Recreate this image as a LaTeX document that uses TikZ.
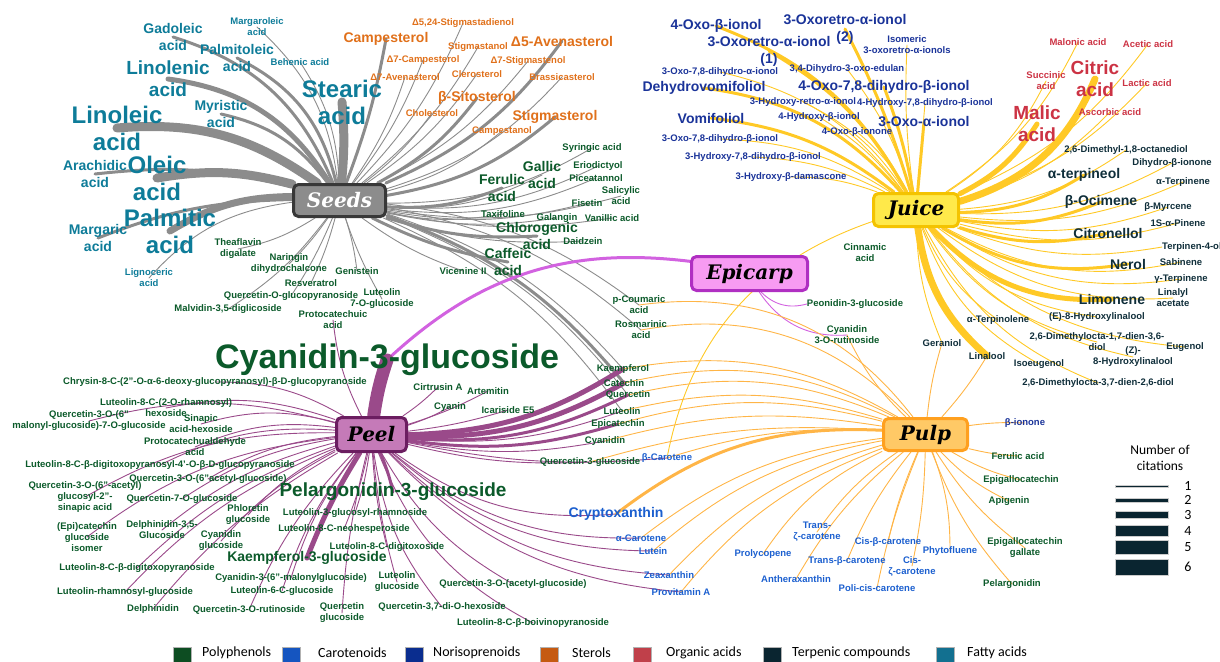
\documentclass[tikz,border=0pt]{standalone}
\usepackage{fontspec}
\setmainfont{Liberation Sans}
\newfontfamily\hubfont{DejaVu Serif}
\newfontfamily\legfont{Carlito}
\usetikzlibrary{backgrounds}

\definecolor{poly}{HTML}{0B5A2A}
\definecolor{caro}{HTML}{1B5FCF}
\definecolor{nori}{HTML}{1A3399}
\definecolor{ster}{HTML}{E0701A}
\definecolor{orga}{HTML}{CC3344}
\definecolor{terp}{HTML}{0F2E3A}
\definecolor{fatt}{HTML}{0E7C99}
\definecolor{polyL}{HTML}{0D4D22}
\definecolor{caroL}{HTML}{1555C0}
\definecolor{noriL}{HTML}{0A2D8F}
\definecolor{sterL}{HTML}{C55A11}
\definecolor{orgaL}{HTML}{C0404A}
\definecolor{terpL}{HTML}{0A2530}
\definecolor{fattL}{HTML}{127090}
\definecolor{seedE}{HTML}{8C8C8C}
\definecolor{juiceE}{HTML}{FFC926}
\definecolor{peelE}{HTML}{9A4A8A}
\definecolor{epiE}{HTML}{D262E0}
\definecolor{pulpE}{HTML}{FFB547}

\tikzset{
  lbl/.style={inner sep=0pt, align=center},
  szS/.style={lbl, font=\fontsize{9.5}{11}\selectfont\bfseries},
  szM/.style={lbl, font=\fontsize{14}{17}\selectfont\bfseries},
  szL/.style={lbl, font=\fontsize{19}{22}\selectfont\bfseries},
  szXL/.style={lbl, font=\fontsize{24}{27}\selectfont\bfseries},
  szXXL/.style={lbl, font=\fontsize{34}{38}\selectfont\bfseries},
  tPP/.style={text=poly}, tCA/.style={text=caro}, tNS/.style={text=nori},
  tST/.style={text=ster}, tOA/.style={text=orga}, tTP/.style={text=terp},
  tFA/.style={text=fatt},
  hub/.style={rounded corners=5pt, line width=3pt, inner sep=0pt,
    font=\hubfont\fontsize{20}{24}\selectfont\bfseries\itshape},
  eSeeds/.style={draw=seedE, line cap=round},
  eJuice/.style={draw=juiceE, line cap=round},
  ePeel/.style={draw=peelE, line cap=round},
  eEpi/.style={draw=epiE, line cap=round},
  ePulp/.style={draw=pulpE, line cap=round},
  c1/.style={line width=0.9pt}, c2/.style={line width=3pt},
  c3/.style={line width=5pt}, c4/.style={line width=7pt},
  c5/.style={line width=9pt}, c6/.style={line width=13pt},
  legsq/.style={minimum size=18pt, inner sep=0pt, draw=gray!60, line width=0.6pt},
  legtxt/.style={anchor=west, inner sep=0pt, font=\legfont\fontsize{14}{16}\selectfont},
  citbar/.style={minimum width=53pt, inner sep=0pt, fill=terpL, draw=gray!40, line width=0.5pt}
}

\begin{document}
\begin{tikzpicture}[x=1pt,y=-1pt]
  \useasboundingbox (0,0) rectangle (1220,661);

  % hubs
  \node[hub,fill=black!45,draw=black!78,text=white,minimum width=92pt,minimum height=32pt] (seeds) at (339.5,200.5) {Seeds};
  \node[hub,fill={rgb,255:red,255;green,233;blue,74},draw={rgb,255:red,244;green,195;blue,0},minimum width=85pt,minimum height=33pt] (juice) at (916,210) {Juice};
  \node[hub,fill={rgb,255:red,247;green,155;blue,242},draw={rgb,255:red,176;green,47;blue,194},minimum width=116pt,minimum height=34pt] (epicarp) at (749.5,273.5) {Epicarp};
  \node[hub,fill={rgb,255:red,197;green,122;blue,184},draw={rgb,255:red,107;green,29;blue,96},minimum width=70pt,minimum height=34pt] (peel) at (371.5,434.5) {Peel};
  \node[hub,fill={rgb,255:red,255;green,201;blue,102},draw={rgb,255:red,255;green,160;blue,31},minimum width=84pt,minimum height=32pt] (pulp) at (925.5,434.5) {Pulp};

  % fatty acids
  \node[szM,tFA] (gad) at (173,37) {Gadoleic\\acid};
  \node[szS,tFA] (mgo) at (257,27) {Margaroleic\\acid};
  \node[szM,tFA] (pmo) at (237,58) {Palmitoleic\\acid};
  \node[szS,tFA] (beh) at (300,62) {Behenic acid};
  \node[szL,tFA] (lnn) at (168,79) {Linolenic\\acid};
  \node[szM,tFA] (myr) at (221,114) {Myristic\\acid};
  \node[szXL,tFA] (lno) at (117,128) {Linoleic\\acid};
  \node[szXL,tFA] (ste) at (342,102) {Stearic\\acid};
  \node[szM,tFA] (ara) at (95,174) {Arachidic\\acid};
  \node[szXL,tFA] (ole) at (157,178) {Oleic\\acid};
  \node[szXL,tFA] (pal) at (170,231) {Palmitic\\acid};
  \node[szM,tFA] (mgc) at (98,238) {Margaric\\acid};
  \node[szS,tFA] (lig) at (149,278) {Lignoceric\\acid};

  % sterols
  \node[szS,tST] (s524) at (463,23) {Δ5,24-Stigmastadienol};
  \node[szM,tST] (cmp) at (386,39) {Campesterol};
  \node[szS,tST] (stn) at (478,47) {Stigmastanol};
  \node[szM,tST] (a5a) at (562,41) {Δ5-Avenasterol};
  \node[szS,tST] (c7) at (423,60) {Δ7-Campesterol};
  \node[szS,tST] (s7) at (528,61) {Δ7-Stigmastenol};
  \node[szS,tST] (a7) at (405,77) {Δ7-Avenasterol};
  \node[szS,tST] (clr) at (477,74) {Clerosterol};
  \node[szS,tST] (bra) at (562,77) {Brassicasterol};
  \node[szM,tST] (sit) at (477,98) {β-Sitosterol};
  \node[szS,tST] (cho) at (432,113) {Cholesterol};
  \node[szM,tST] (stg) at (555,117) {Stigmasterol};
  \node[szS,tST] (cpn) at (502,131) {Campestanol};

  % polyphenols
  \node[szS,tPP] (syr) at (592,148) {Syringic acid};
  \node[szM,tPP] (gal) at (542,175) {Gallic\\acid};
  \node[szS,tPP] (eri) at (598,166) {Eriodictyol};
  \node[szM,tPP] (fer) at (502,188) {Ferulic\\acid};
  \node[szS,tPP] (pic) at (596,178) {Piceatannol};
  \node[szS,tPP] (sal) at (621,196) {Salicylic\\acid};
  \node[szS,tPP] (fis) at (587,203) {Fisetin};
  \node[szS,tPP] (tax) at (503,214) {Taxifoline};
  \node[szS,tPP] (glg) at (557,218) {Galangin};
  \node[szS,tPP] (van) at (612,218) {Vanillic acid};
  \node[szM,tPP] (chl) at (537,236) {Chlorogenic\\acid};
  \node[szS,tPP] (dai) at (583,241) {Daidzein};
  \node[szM,tPP] (caf) at (508,262) {Caffeic\\acid};
  \node[szS,tPP] (vic) at (463,271) {Vicenine II};
  \node[szS,tPP] (gen) at (357,271) {Genistein};
  \node[szS,tPP] (the) at (238,249) {Theaflavin\\digalate};
  \node[szS,tPP] (nar) at (289,264) {Naringin\\dihydrochalcone};
  \node[szS,tPP] (res) at (311,283) {Resveratrol};
  \node[szS,tPP] (qog) at (291,296) {Quercetin-O-glucopyranoside};
  \node[szS,tPP] (l7g) at (382,299) {Luteolin\\7-O-glucoside};
  \node[szS,tPP] (mal) at (228,309) {Malvidin-3,5-diglicoside};
  \node[szS,tPP] (pca) at (333,320) {Protocatechuic\\acid};
  \node[szS,tPP] (pcm) at (639,305) {p-Coumaric\\acid};
  \node[szS,tPP] (ros) at (641,330) {Rosmarinic\\acid};
  \node[szS,tPP] (cin) at (865,253) {Cinnamic\\acid};
  \node[szS,tPP] (peo) at (855,304) {Peonidin-3-glucoside};
  \node[szS,tPP] (c3r) at (847,335) {Cyanidin\\3-O-rutinoside};
  \node[szS,tPP] (kae) at (623,369) {Kaempferol};
  \node[szS,tPP] (cat) at (624,383) {Catechin};
  \node[szS,tPP] (que) at (628,395) {Quercetin};
  \node[szS,tPP] (lut) at (622,411) {Luteolin};
  \node[szS,tPP] (epi) at (618,424) {Epicatechin};
  \node[szS,tPP] (cya) at (605,441) {Cyanidin};
  \node[szS,tPP] (q3g) at (590,462) {Quercetin-3-glucoside};
  \node[szS,tPP] (cir) at (438,387) {Cirtrusin A};
  \node[szS,tPP] (art) at (488,391) {Artemitin};
  \node[szS,tPP] (cyn) at (450,407) {Cyanin};
  \node[szS,tPP] (ica) at (508,410) {Icariside E5};
  \node[szXXL,tPP] (c3g) at (387,360) {Cyanidin-3-glucoside};
  \node[szS,tPP] (chr) at (215,382) {Chrysin-8-C-(2''-O-α-6-deoxy-glucopyranosyl)-β-D-glucopyranoside};
  \node[szS,tPP] (l8r) at (166,408) {Luteolin-8-C-(2-O-rhamnosyl)\\hexoside};
  \node[szS,tPP] (q3m) at (89,421) {Quercetin-3-O-(6''\\malonyl-glucoside)-7-O-glucoside};
  \node[szS,tPP] (sin) at (201,424) {Sinapic\\acid-hexoside};
  \node[szS,tPP] (pcd) at (195,447) {Protocatechualdehyde\\acid};
  \node[szS,tPP] (l8d) at (160,465) {Luteolin-8-C-β-digitoxopyranosyl-4'-O-β-D-glucopyranoside};
  \node[szS,tPP] (q6a) at (208,479) {Quercetin-3-O-(6''acetyl-glucoside)};
  \node[szS,tPP] (qas) at (85,497) {Quercetin-3-O-(6''-acetyl)\\glucosyl-2''-\\sinapic acid};
  \node[szS,tPP] (q7g) at (182,499) {Quercetin-7-O-glucoside};
  \node[szS,tPP] (phl) at (248,515) {Phloretin\\glucoside};
  \node[szS,tPP] (ecg) at (87,537) {(Epi)catechin\\glucoside\\isomer};
  \node[szS,tPP] (d35) at (162,530) {Delphinidin-3,5-\\Glucoside};
  \node[szS,tPP] (cyg) at (221,541) {Cyanidin\\glucoside};
  \node[szL,tPP] (pel) at (393,492) {Pelargonidin-3-glucoside};
  \node[szS,tPP] (lgr) at (355,513) {Luteolin-3-glucosyl-rhamnoside};
  \node[szS,tPP] (lnh) at (344,529) {Luteolin-8-C-neohesperoside};
  \node[szS,tPP] (ldg) at (387,547) {Luteolin-8-C-digitoxoside};
  \node[szM,tPP] (k3g) at (307,558) {Kaempferol-3-glucoside};
  \node[szS,tPP] (ldp) at (137,568) {Luteolin-8-C-β-digitoxopyranoside};
  \node[szS,tPP] (cmg) at (291,578) {Cyanidin-3-(6''-malonylglucoside)};
  \node[szS,tPP] (l6c) at (282,591) {Luteolin-6-C-glucoside};
  \node[szS,tPP] (lgl) at (397,582) {Luteolin\\glucoside};
  \node[szS,tPP] (lrg) at (125,592) {Luteolin-rhamnosyl-glucoside};
  \node[szS,tPP] (qag) at (513,584) {Quercetin-3-O-(acetyl-glucoside)};
  \node[szS,tPP] (del) at (153,609) {Delphinidin};
  \node[szS,tPP] (qru) at (249,610) {Quercetin-3-O-rutinoside};
  \node[szS,tPP] (qgl) at (342,613) {Quercetin\\glucoside};
  \node[szS,tPP] (q37) at (442,607) {Quercetin-3,7-di-O-hexoside};
  \node[szS,tPP] (lbv) at (533,623) {Luteolin-8-C-β-boivinopyranoside};
  \node[szS,tPP] (fea) at (1018,456) {Ferulic acid};
  \node[szS,tPP] (egc) at (1021,480) {Epigallocatechin};
  \node[szS,tPP] (api) at (1009,501) {Apigenin};
  \node[szS,tPP] (egg) at (1025,548) {Epigallocatechin\\gallate};
  \node[szS,tPP] (pgd) at (1012,584) {Pelargonidin};

  % carotenoids
  \node[szS,tCA] (bca) at (667,458) {β-Carotene};
  \node[szM,tCA] (cry) at (616,514) {Cryptoxanthin};
  \node[szS,tCA] (aca) at (641,538) {α-Carotene};
  \node[szS,tCA] (lue) at (653,551) {Lutein};
  \node[szS,tCA] (zea) at (669,575) {Zeaxanthin};
  \node[szS,tCA] (pva) at (681,592) {Provitamin A};
  \node[szS,tCA] (ply) at (763,554) {Prolycopene};
  \node[szS,tCA] (tzc) at (817,532) {Trans-\\ζ-carotene};
  \node[szS,tCA] (ant) at (796,579) {Antheraxanthin};
  \node[szS,tCA] (tbc) at (847,561) {Trans-β-carotene};
  \node[szS,tCA] (cbc) at (888,542) {Cis-β-carotene};
  \node[szS,tCA] (pcc) at (877,588) {Poli-cis-carotene};
  \node[szS,tCA] (czc) at (912,566) {Cis-\\ζ-carotene};
  \node[szS,tCA] (phy) at (950,551) {Phytofluene};

  % norisoprenoids
  \node[szS,tNS] (bio) at (1025,423) {β-ionone};
  \node[szM,tNS] (oxb) at (716,26) {4-Oxo-β-ionol};
  \node[szM,tNS] (or2) at (845,29) {3-Oxoretro-α-ionol\\(2)};
  \node[szS,tNS] (iso) at (907,45) {Isomeric\\3-oxoretro-α-ionols};
  \node[szM,tNS] (or1) at (769,51) {3-Oxoretro-α-ionol\\(1)};
  \node[szS,tNS] (o78a) at (720,72) {3-Oxo-7,8-dihydro-α-ionol};
  \node[szS,tNS] (ded) at (847,69) {3,4-Dihydro-3-oxo-edulan};
  \node[szM,tNS] (dhv) at (704,88) {Dehydrovomifoliol};
  \node[szM,tNS] (o78b) at (884,87) {4-Oxo-7,8-dihydro-β-ionol};
  \node[szS,tNS] (hra) at (803,102) {3-Hydroxy-retro-α-ionol};
  \node[szS,tNS] (h78) at (925,103) {4-Hydroxy-7,8-dihydro-β-ionol};
  \node[szM,tNS] (vom) at (711,118) {Vomifoliol};
  \node[szS,tNS] (hbi) at (819,117) {4-Hydroxy-β-ionol};
  \node[szM,tNS] (oai) at (924,122) {3-Oxo-α-ionol};
  \node[szS,tNS] (obn) at (857,132) {4-Oxo-β-ionone};
  \node[szS,tNS] (o78c) at (720,139) {3-Oxo-7,8-dihydro-β-ionol};
  \node[szS,tNS] (h78b) at (753,157) {3-Hydroxy-7,8-dihydro-β-ionol};
  \node[szS,tNS] (hbd) at (791,177) {3-Hydroxy-β-damascone};

  % organic acids
  \node[szS,tOA] (mlo) at (1078,42) {Malonic acid};
  \node[szS,tOA] (ace) at (1148,44) {Acetic acid};
  \node[szS,tOA] (suc) at (1046,81) {Succinic\\acid};
  \node[szL,tOA] (cit) at (1095,79) {Citric\\acid};
  \node[szS,tOA] (lac) at (1147,83) {Lactic acid};
  \node[szL,tOA] (mlc) at (1037,124) {Malic\\acid};
  \node[szS,tOA] (asc) at (1110,112) {Ascorbic acid};

  % terpenic compounds
  \node[szS,tTP] (dmo) at (1126,150) {2,6-Dimethyl-1,8-octanediol};
  \node[szS,tTP] (dhi) at (1172,163) {Dihydro-β-ionone};
  \node[szM,tTP] (ate) at (1084,175) {α-terpineol};
  \node[szS,tTP] (atr) at (1183,182) {α-Terpinene};
  \node[szM,tTP] (oci) at (1101,202) {β-Ocimene};
  \node[szS,tTP] (myc) at (1168,207) {β-Myrcene};
  \node[szS,tTP] (pin) at (1178,223) {1S-α-Pinene};
  \node[szM,tTP] (ctn) at (1108,233) {Citronellol};
  \node[szS,tTP,anchor=west] (t4o) at (1162,247) {Terpinen-4-ol};
  \node[szM,tTP] (ner) at (1128,264) {Nerol};
  \node[szS,tTP] (sab) at (1181,262) {Sabinene};
  \node[szS,tTP] (gte) at (1181,279) {γ-Terpinene};
  \node[szM,tTP] (lim) at (1112,299) {Limonene};
  \node[szS,tTP] (lya) at (1173,298) {Linalyl\\acetate};
  \node[szS,tTP] (e8h) at (1097,317) {(E)-8-Hydroxylinalool};
  \node[szS,tTP] (ato) at (998,320) {α-Terpinolene};
  \node[szS,tTP] (d17) at (1097,342) {2,6-Dimethylocta-1,7-dien-3,6-\\diol};
  \node[szS,tTP] (eug) at (1185,347) {Eugenol};
  \node[szS,tTP] (z8h) at (1133,357) {(Z)-\\8-Hydroxylinalool};
  \node[szS,tTP] (ger) at (942,343) {Geraniol};
  \node[szS,tTP] (lin) at (987,356) {Linalool};
  \node[szS,tTP] (ieu) at (1039,364) {Isoeugenol};
  \node[szS,tTP] (d37) at (1098,383) {2,6-Dimethylocta-3,7-dien-2,6-diol};

  % Draw edges
  \begin{scope}[on background layer]
    % seeds
    \draw[eSeeds,c2] (seeds) to[bend right=25] (gad.center);
    \draw[eSeeds,c1] (seeds) to[bend right=20] (mgo.center);
    \draw[eSeeds,c2] (seeds) to[bend right=25] (pmo.center);
    \draw[eSeeds,c1] (seeds) to[bend right=15] (beh.center);
    \draw[eSeeds,c3] (seeds) to[bend right=25] (lnn.center);
    \draw[eSeeds,c2] (seeds) to[bend right=20] (myr.center);
    \draw[eSeeds,c5] (seeds) to[bend right=20] (lno.center);
    \draw[eSeeds,c5] (seeds) to[bend right=5] (ste.center);
    \draw[eSeeds,c2] (seeds) to[bend right=10] (ara.center);
    \draw[eSeeds,c5] (seeds) to[bend right=12] (ole.center);
    \draw[eSeeds,c4] (seeds) to[bend right=15] (pal.center);
    \draw[eSeeds,c2] (seeds) to[bend right=10] (mgc.center);
    \draw[eSeeds,c1] (seeds) to[bend right=20] (lig.center);
    \draw[eSeeds,c1] (seeds) to[bend right=10] (s524.center);
    \draw[eSeeds,c2] (seeds) to[bend right=5] (cmp.center);
    \draw[eSeeds,c1] (seeds) to[bend right=10] (stn.center);
    \draw[eSeeds,c2] (seeds) to[bend right=15] (a5a.center);
    \draw[eSeeds,c1] (seeds) to[bend right=8] (c7.center);
    \draw[eSeeds,c1] (seeds) to[bend right=12] (s7.center);
    \draw[eSeeds,c1] (seeds) to[bend right=8] (a7.center);
    \draw[eSeeds,c1] (seeds) to[bend right=10] (clr.center);
    \draw[eSeeds,c1] (seeds) to[bend right=15] (bra.center);
    \draw[eSeeds,c2] (seeds) to[bend right=12] (sit.center);
    \draw[eSeeds,c1] (seeds) to[bend right=8] (cho.center);
    \draw[eSeeds,c2] (seeds) to[bend right=15] (stg.center);
    \draw[eSeeds,c1] (seeds) to[bend right=12] (cpn.center);
    \draw[eSeeds,c1] (seeds) to[bend right=15] (syr.center);
    \draw[eSeeds,c1] (seeds) to[bend right=15] (gal.center);
    \draw[eSeeds,c1] (seeds) to[bend right=15] (eri.center);
    \draw[eSeeds,c2] (seeds) to[bend right=12] (fer.center);
    \draw[eSeeds,c1] (seeds) to[bend right=15] (pic.center);
    \draw[eSeeds,c1] (seeds) to[bend right=12] (sal.center);
    \draw[eSeeds,c1] (seeds) to[bend right=12] (fis.center);
    \draw[eSeeds,c1] (seeds) to[bend right=10] (tax.center);
    \draw[eSeeds,c1] (seeds) to[bend right=10] (glg.center);
    \draw[eSeeds,c1] (seeds) to[bend right=10] (van.center);
    \draw[eSeeds,c2] (seeds) to[bend right=10] (chl.center);
    \draw[eSeeds,c1] (seeds) to[bend right=10] (dai.center);
    \draw[eSeeds,c2] (seeds) to[bend right=8] (caf.center);
    \draw[eSeeds,c1] (seeds) to[bend right=8] (vic.center);
    \draw[eSeeds,c1] (seeds) to[bend left=5] (gen.center);
    \draw[eSeeds,c1] (seeds) to[bend left=10] (the.center);
    \draw[eSeeds,c1] (seeds) to[bend left=5] (nar.center);
    \draw[eSeeds,c1] (seeds) to[bend left=5] (res.center);
    \draw[eSeeds,c1] (seeds) to[bend left=5] (qog.center);
    \draw[eSeeds,c1] (seeds) to[bend right=5] (l7g.center);
    \draw[eSeeds,c1] (seeds) to[bend left=10] (mal.center);
    \draw[eSeeds,c1] (seeds) to[bend left=15] (pcm.center);
    \draw[eSeeds,c1] (seeds) to[bend left=15] (ros.center);
    \draw[eSeeds,c1] (seeds) to[bend left=15] (kae.center);
    \draw[eSeeds,c2] (seeds) to[bend left=15] (cat.center);
    \draw[eSeeds,c1] (seeds) to[bend left=15] (que.center);
    \draw[eSeeds,c1] (seeds) to[bend left=15] (lut.center);
    % juice
    \draw[eJuice,c2] (juice) to[bend right=20] (oxb.center);
    \draw[eJuice,c2] (juice) to[bend right=5] (or2.center);
    \draw[eJuice,c1] (juice) to[bend left=5] (iso.center);
    \draw[eJuice,c2] (juice) to[bend right=15] (or1.center);
    \draw[eJuice,c1] (juice) to[bend right=20] (o78a.center);
    \draw[eJuice,c1] (juice) to[bend right=10] (ded.center);
    \draw[eJuice,c2] (juice) to[bend right=20] (dhv.center);
    \draw[eJuice,c2] (juice) to[bend right=5] (o78b.center);
    \draw[eJuice,c1] (juice) to[bend right=15] (hra.center);
    \draw[eJuice,c1] (juice) -- (h78.center);
    \draw[eJuice,c2] (juice) to[bend right=15] (vom.center);
    \draw[eJuice,c1] (juice) to[bend right=10] (hbi.center);
    \draw[eJuice,c2] (juice) -- (oai.center);
    \draw[eJuice,c1] (juice) to[bend right=10] (obn.center);
    \draw[eJuice,c1] (juice) to[bend right=15] (o78c.center);
    \draw[eJuice,c1] (juice) to[bend right=12] (h78b.center);
    \draw[eJuice,c1] (juice) to[bend right=10] (hbd.center);
    \draw[eJuice,c1] (juice) to[bend right=15] (mlo.center);
    \draw[eJuice,c1] (juice) to[bend right=15] (ace.center);
    \draw[eJuice,c1] (juice) to[bend right=15] (suc.center);
    \draw[eJuice,c4] (juice) to[bend right=25] (cit.center);
    \draw[eJuice,c1] (juice) to[bend right=15] (lac.center);
    \draw[eJuice,c3] (juice) to[bend right=15] (mlc.center);
    \draw[eJuice,c1] (juice) to[bend right=15] (asc.center);
    \draw[eJuice,c1] (juice) to[bend right=15] (dmo.center);
    \draw[eJuice,c1] (juice) to[bend right=15] (dhi.center);
    \draw[eJuice,c2] (juice) to[bend right=15] (ate.center);
    \draw[eJuice,c1] (juice) to[bend right=15] (atr.center);
    \draw[eJuice,c2] (juice) to[bend right=15] (oci.center);
    \draw[eJuice,c1] (juice) to[bend right=15] (myc.center);
    \draw[eJuice,c1] (juice) to[bend right=15] (pin.center);
    \draw[eJuice,c2] (juice) to[bend right=15] (ctn.center);
    \draw[eJuice,c1] (juice) to[bend right=15] (t4o.west);
    \draw[eJuice,c2] (juice) to[bend right=20] (ner.center);
    \draw[eJuice,c1] (juice) to[bend right=20] (sab.center);
    \draw[eJuice,c1] (juice) to[bend right=20] (gte.center);
    \draw[eJuice,c3] (juice) to[bend right=25] (lim.center);
    \draw[eJuice,c1] (juice) to[bend right=20] (lya.center);
    \draw[eJuice,c1] (juice) to[bend right=20] (e8h.center);
    \draw[eJuice,c1] (juice) to[bend right=15] (ato.center);
    \draw[eJuice,c1] (juice) to[bend right=20] (d17.center);
    \draw[eJuice,c1] (juice) to[bend right=20] (eug.center);
    \draw[eJuice,c1] (juice) to[bend right=20] (z8h.center);
    \draw[eJuice,c1] (juice) to[bend right=10] (ger.center);
    \draw[eJuice,c4] (juice) to[bend right=20] (lin.center);
    \draw[eJuice,c1] (juice) to[bend right=20] (ieu.center);
    \draw[eJuice,c1] (juice) to[bend right=20] (d37.center);
    \draw[eJuice,c1] (juice) to[bend right=30] (bca.center);
    % epicarp
    \draw[eEpi,c2] (epicarp) to[bend right=25] (c3g.center);
    \draw[eEpi,c1] (epicarp) to[bend right=30] (peo.west);
    \draw[eEpi,c1] (epicarp) to[bend right=30] (c3r.center);
    % peel
    \draw[ePeel,c6] (peel) to[bend left=5] (c3g.center);
    \draw[ePeel,c2] (peel) to[bend left=5] (pel.center);
    \draw[ePeel,c3] (peel) to[bend right=5] (k3g.center);
    \draw[ePeel,c3] (peel) to[bend right=15] (kae.center);
    \draw[ePeel,c3] (peel) to[bend right=15] (cat.center);
    \draw[ePeel,c2] (peel) to[bend right=15] (que.center);
    \draw[ePeel,c1] (peel) to[bend right=12] (lut.center);
    \draw[ePeel,c2] (peel) to[bend right=12] (epi.center);
    \draw[ePeel,c1] (peel) to[bend right=10] (cya.center);
    \draw[ePeel,c1] (peel) to[bend right=8] (q3g.center);
    \draw[ePeel,c1] (peel) to[bend right=8] (bca.center);
    \draw[ePeel,c1] (peel) to[bend right=5] (cir.center);
    \draw[ePeel,c1] (peel) to[bend right=5] (art.center);
    \draw[ePeel,c1] (peel) to[bend right=5] (cyn.center);
    \draw[ePeel,c1] (peel) to[bend right=5] (ica.center);
    \draw[ePeel,c1] (peel) to[bend left=10] (pca.center);
    \draw[ePeel,c1] (peel) to[bend right=20] (cry.center);
    \draw[ePeel,c1] (peel) to[bend right=20] (aca.center);
    \draw[ePeel,c1] (peel) to[bend right=20] (lue.center);
    \draw[ePeel,c1] (peel) to[bend right=20] (zea.center);
    \draw[ePeel,c1] (peel) to[bend right=20] (pva.center);
    \draw[ePeel,c1] (peel) to[bend right=15] (qag.center);
    \draw[ePeel,c1] (peel) to[bend right=15] (q37.center);
    \draw[ePeel,c1] (peel) to[bend right=20] (lbv.center);
    \draw[ePeel,c1] (peel) to[bend right=5] (lgl.center);
    \draw[ePeel,c1] (peel) to[bend right=5] (ldg.center);
    \draw[ePeel,c1] (peel) to[bend left=5] (lnh.center);
    \draw[ePeel,c1] (peel) to[bend left=5] (lgr.center);
    \draw[ePeel,c1] (peel) to[bend right=5] (qgl.center);
    \draw[ePeel,c1] (peel) to[bend right=10] (l6c.center);
    \draw[ePeel,c1] (peel) to[bend right=10] (cmg.center);
    \draw[ePeel,c1] (peel) to[bend right=10] (qru.center);
    \draw[ePeel,c1] (peel) to[bend right=10] (del.center);
    \draw[ePeel,c1] (peel) to[bend right=12] (lrg.center);
    \draw[ePeel,c1] (peel) to[bend right=12] (ldp.center);
    \draw[ePeel,c1] (peel) to[bend right=15] (ecg.center);
    \draw[ePeel,c1] (peel) to[bend right=10] (cyg.center);
    \draw[ePeel,c1] (peel) to[bend right=12] (d35.center);
    \draw[ePeel,c1] (peel) to[bend right=10] (phl.center);
    \draw[ePeel,c1] (peel) to[bend right=12] (q7g.center);
    \draw[ePeel,c1] (peel) to[bend right=15] (qas.center);
    \draw[ePeel,c1] (peel) to[bend right=12] (q6a.center);
    \draw[ePeel,c1] (peel) to[bend right=15] (l8d.center);
    \draw[ePeel,c1] (peel) to[bend right=15] (pcd.center);
    \draw[ePeel,c1] (peel) to[bend right=15] (sin.center);
    \draw[ePeel,c1] (peel) to[bend right=15] (q3m.center);
    \draw[ePeel,c1] (peel) to[bend right=15] (l8r.center);
    \draw[ePeel,c1] (peel) to[bend right=15] (chr.center);
    % pulp
    \draw[ePulp,c1] (pulp) to[bend right=30] (pcm.center);
    \draw[ePulp,c1] (pulp) to[bend right=28] (ros.center);
    \draw[ePulp,c1] (pulp) to[bend right=20] (kae.center);
    \draw[ePulp,c1] (pulp) to[bend right=20] (cat.center);
    \draw[ePulp,c1] (pulp) to[bend right=18] (que.center);
    \draw[ePulp,c1] (pulp) to[bend right=15] (lut.center);
    \draw[ePulp,c1] (pulp) to[bend right=15] (epi.center);
    \draw[ePulp,c1] (pulp) to[bend right=12] (cya.center);
    \draw[ePulp,c1] (pulp) to[bend right=10] (q3g.center);
    \draw[ePulp,c1] (pulp) to[bend right=10] (bca.center);
    \draw[ePulp,c2] (pulp) to[bend right=20] (cry.center);
    \draw[ePulp,c1] (pulp) to[bend right=15] (aca.center);
    \draw[ePulp,c1] (pulp) to[bend right=15] (lue.center);
    \draw[ePulp,c1] (pulp) to[bend right=15] (zea.center);
    \draw[ePulp,c1] (pulp) to[bend right=15] (pva.center);
    \draw[ePulp,c1] (pulp) to[bend right=15] (ply.center);
    \draw[ePulp,c1] (pulp) to[bend right=10] (tzc.center);
    \draw[ePulp,c1] (pulp) to[bend right=10] (ant.center);
    \draw[ePulp,c1] (pulp) to[bend right=8] (tbc.center);
    \draw[ePulp,c1] (pulp) to[bend right=5] (cbc.center);
    \draw[ePulp,c1] (pulp) to[bend right=5] (pcc.center);
    \draw[ePulp,c1] (pulp) to[bend left=5] (czc.center);
    \draw[ePulp,c1] (pulp) to[bend left=10] (phy.center);
    \draw[ePulp,c1] (pulp) to[bend right=10] (pgd.center);
    \draw[ePulp,c1] (pulp) to[bend right=10] (egg.center);
    \draw[ePulp,c1] (pulp) to[bend right=10] (api.center);
    \draw[ePulp,c1] (pulp) to[bend right=8] (egc.center);
    \draw[ePulp,c1] (pulp) to[bend right=5] (fea.center);
    \draw[ePulp,c1] (pulp) to[bend left=5] (bio.center);
    \draw[ePulp,c1] (pulp) to[bend left=10] (c3r.center);
    \draw[ePulp,c1] (pulp) to[bend left=5] (ger.center);
    \draw[ePulp,c1] (pulp) to[bend right=5] (lin.center);
  \end{scope}

  % legend
  \node[legsq,fill=polyL] (lgPoly) at (182.5,656) {};
  \node[legtxt] (ltPoly) at (202,653) {Polyphenols};
  \node[legsq,fill=caroL] (lgCaro) at (291,656) {};
  \node[legtxt] (ltCaro) at (318,653) {Carotenoids};
  \node[legsq,fill=noriL] (lgNori) at (414,656) {};
  \node[legtxt] (ltNori) at (433,653) {Norisoprenoids};
  \node[legsq,fill=sterL] (lgSter) at (549,656) {};
  \node[legtxt] (ltSter) at (572,653) {Sterols};
  \node[legsq,fill=orgaL] (lgOrga) at (642.5,656) {};
  \node[legtxt] (ltOrga) at (666,653) {Organic acids};
  \node[legsq,fill=terpL] (lgTerp) at (772,656) {};
  \node[legtxt] (ltTerp) at (792,653) {Terpenic compounds};
  \node[legsq,fill=fattL] (lgFatt) at (945,656) {};
  \node[legtxt] (ltFatt) at (967,653) {Fatty acids};

  \node[align=center,inner sep=0pt,font=\legfont\fontsize{13.5}{16}\selectfont] (citTitle) at (1160,458) {Number of\\citations};
  \node[citbar,minimum height=1.5pt] (cb1) at (1141.5,486) {};
  \node[citbar,minimum height=4pt] (cb2) at (1141.5,500) {};
  \node[citbar,minimum height=7pt] (cb3) at (1141.5,515) {};
  \node[citbar,minimum height=11pt] (cb4) at (1141.5,531) {};
  \node[citbar,minimum height=14pt] (cb5) at (1141.5,547) {};
  \node[citbar,minimum height=16pt] (cb6) at (1141.5,567) {};
  \node[font=\legfont\fontsize{14}{16}\selectfont,inner sep=0pt] (cn1) at (1188,486) {1};
  \node[font=\legfont\fontsize{14}{16}\selectfont,inner sep=0pt] (cn2) at (1188,500) {2};
  \node[font=\legfont\fontsize{14}{16}\selectfont,inner sep=0pt] (cn3) at (1188,515) {3};
  \node[font=\legfont\fontsize{14}{16}\selectfont,inner sep=0pt] (cn4) at (1188,531) {4};
  \node[font=\legfont\fontsize{14}{16}\selectfont,inner sep=0pt] (cn5) at (1188,547) {5};
  \node[font=\legfont\fontsize{14}{16}\selectfont,inner sep=0pt] (cn6) at (1188,567) {6};
\end{tikzpicture}
\end{document}
